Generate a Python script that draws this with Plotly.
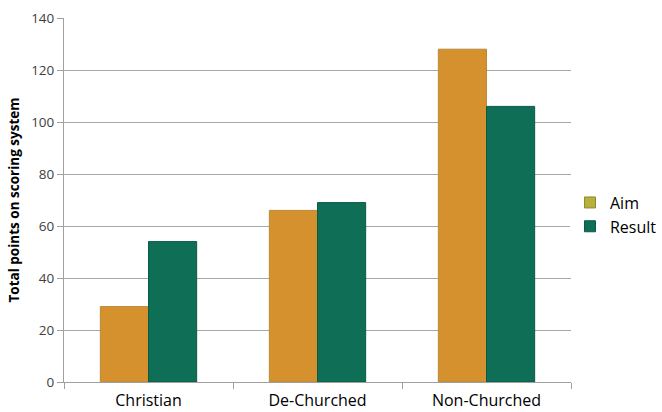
import plotly.graph_objects as go

categories = ["Christian", "De-Churched", "Non-Churched"]
aim = [29, 66, 128]
result = [54, 69, 106]
series_names = ["Aim", "Result"]
y_ticks = [0, 20, 40, 60, 80, 100, 120, 140]

fig = go.Figure()
fig.add_trace(go.Bar(x=categories, y=aim, name=series_names[0], showlegend=False,
                     marker=dict(color="#D4912E", line=dict(color="#B98A3A", width=1))))
fig.add_trace(go.Bar(x=categories, y=result, name=series_names[1], showlegend=False,
                     marker=dict(color="#0F6E56", line=dict(color="#0B5A45", width=1))))
# legend entries (no data)
fig.add_trace(go.Scatter(x=[None], y=[None], name=series_names[0], mode="markers",
                         marker=dict(symbol="square", size=11, color="#B8B03C",
                                     line=dict(color="#8E8A30", width=1))))
fig.add_trace(go.Scatter(x=[None], y=[None], name=series_names[1], mode="markers",
                         marker=dict(symbol="square", size=11, color="#0F6E56",
                                     line=dict(color="#0B5A45", width=1))))

fig.update_layout(
    width=662, height=412,
    margin=dict(l=64, r=91, t=18, b=30, autoexpand=False),
    paper_bgcolor="white", plot_bgcolor="white",
    barmode="group", bargap=0.43, bargroupgap=0,
    font=dict(family="Open Sans, Noto Sans, sans-serif", color="#000000"),
    legend=dict(x=0.998, y=0.46, xanchor="left", yanchor="middle",
                font=dict(size=16, color="#000000"), itemwidth=30,
                tracegroupgap=4),
    xaxis=dict(showline=True, linecolor="#A0A0A0", linewidth=1,
               ticks="outside", tickson="boundaries", ticklen=6, tickcolor="#A0A0A0",
               ticklabelstandoff=4,
               tickfont=dict(size=16, color="#000000"), range=[-0.5, 2.5]),
    yaxis=dict(range=[0, 140], tickvals=y_ticks, showgrid=True, gridcolor="#A8A8A8",
               showline=True, linecolor="#A0A0A0", ticks="outside", ticklen=6,
               tickcolor="#A0A0A0", tickfont=dict(size=13.5, color="#404040"),
               title=dict(text="<b>Total points on scoring system</b>",
                          font=dict(size=13.5, color="#000000"), standoff=8),
               zeroline=False),
)
fig.write_html("out.html", config={"displayModeBar": False},
               post_script="document.body.style.margin='0';document.body.style.overflow='hidden';")
